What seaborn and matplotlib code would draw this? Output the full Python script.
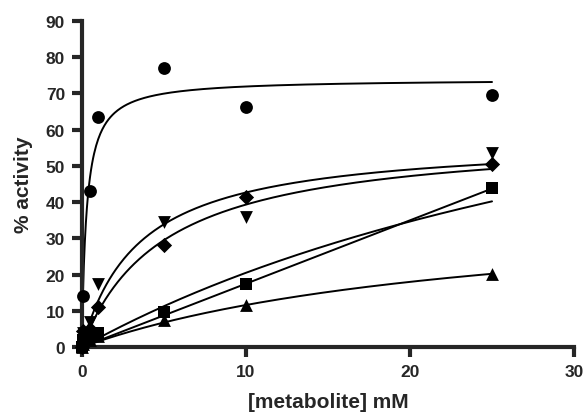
import numpy as np
import pandas as pd
import matplotlib
matplotlib.use("Agg")
import matplotlib.pyplot as plt
import seaborn as sns

# concentrations (mM)
conc = [0, 0.1, 0.5, 1, 5, 10, 25]

# % activity per metabolite series
circle_vals = [0, 14, 43, 63.6, 77, 66.2, 69.5]
tri_down_vals = [0, 4, 7, 17.4, 34.5, 36, 53.5]
diamond_vals = [0, 4.5, 5, 11, 28.2, 41.3, 50.5]
square_vals = [0, 2, 3, 4, 9.7, 17.3, 43.8]
tri_up_vals = [0, 1, 2, 3, 7.5, 11.6, 20.2]

# fitted hyperbola parameters (Vmax, Km)
fit_vmax = [74.0, 57.6, 59.0, 112.0, 40.0]
fit_km = [0.29, 3.5, 5.0, 44.6, 24.4]
# straight-line fit through the squares
lin_slope = 1.75

series = [
    ("circle", circle_vals, "o"),
    ("tri_down", tri_down_vals, "v"),
    ("diamond", diamond_vals, "D"),
    ("square", square_vals, "s"),
    ("tri_up", tri_up_vals, "^"),
]

sns.set_style("ticks")
plt.rcParams['font.family'] = ['Liberation Sans', 'DejaVu Sans']
plt.rcParams['font.weight'] = 'bold'

fig = plt.figure(figsize=(5.84, 4.14), dpi=100)
ax = fig.add_axes([0.140, 0.159, 0.843, 0.788])

# fit curves
xs = np.linspace(0, 25, 400)
for vmax, km in zip(fit_vmax, fit_km):
    curve = pd.DataFrame({"x": xs, "y": vmax * xs / (km + xs)})
    sns.lineplot(data=curve, x="x", y="y", color="black", linewidth=1.4,
                 ax=ax, clip_on=False)
line_df = pd.DataFrame({"x": xs, "y": lin_slope * xs})
sns.lineplot(data=line_df, x="x", y="y", color="black", linewidth=1.4,
             ax=ax, clip_on=False)

# data points
for name, vals, mk in series:
    df = pd.DataFrame({"conc": conc, "act": vals})
    msize = 85 if mk != "D" else 60
    sns.scatterplot(data=df, x="conc", y="act", marker=mk, s=msize,
                    color="black", edgecolor="black", linewidth=0,
                    ax=ax, clip_on=False, zorder=5)

ax.set_xlim(0, 30)
ax.set_ylim(0, 90)
ax.set_xticks([0, 10, 20, 30])
ax.set_yticks(range(0, 91, 10))
sns.despine(ax=ax)
for sp in ["left", "bottom"]:
    ax.spines[sp].set_linewidth(3)
ax.tick_params(width=3, length=7, labelsize=12.5, pad=5)
for lab in ax.get_xticklabels() + ax.get_yticklabels():
    lab.set_fontweight("bold")

ax.set_xlabel("[metabolite] mM", fontsize=15, fontweight="bold", labelpad=9.5)
ax.set_ylabel("% activity", fontsize=15, fontweight="bold", labelpad=9)

fig.savefig("out.png", dpi=100)
